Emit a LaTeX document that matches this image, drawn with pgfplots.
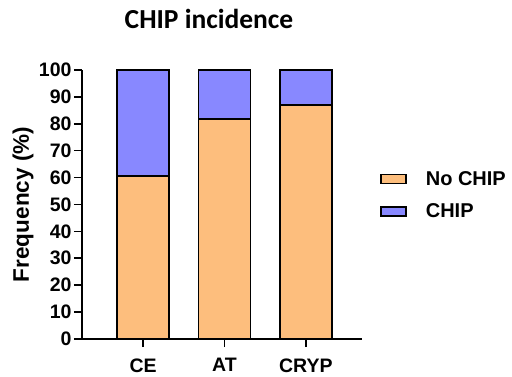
\documentclass[border=0pt]{standalone}
\usepackage{pgfplots}
\pgfplotsset{compat=1.18}
\usepackage{fontspec}
\setmainfont{Liberation Sans}
\newfontfamily\titlefont{Carlito}
\definecolor{nochip}{RGB}{253,190,125}
\definecolor{chip}{RGB}{136,136,255}
\pgfplotstableread{
x name nochip chip
0 CE 60.5 39.5
1 AT 81.7 18.3
2 CRYP 87.0 13.0
}\datatable
\begin{document}
\begin{tikzpicture}
\begin{axis}[
  name=ax,
  at={(0,0)}, anchor=south west,
  scale only axis,
  width=280bp, height=269bp,
  xmin=-0.75, xmax=2.69,
  ymin=0, ymax=100,
  ybar stacked,
  bar width=52bp,
  xtick=data,
  xticklabels={CE,AT,CRYP},
  ytick={0,10,...,100},
  axis x line=bottom, axis y line=left,
  axis line style={-, line width=2bp, black},
  tick style={line width=1.6bp, black},
  major tick length=8bp,
  tick align=outside,
  /pgf/number format/assume math mode=true,
  ticklabel style={font=\bfseries\fontsize{19.5bp}{22bp}\selectfont},
  xticklabel style={yshift=-8bp},
  yticklabel style={xshift=1bp},
  ylabel={Frequency (\%)},
  ylabel style={at={(axis description cs:0,0.5)}, anchor=center, yshift=59bp, font=\bfseries\fontsize{22.5bp}{24bp}\selectfont},
  title={CHIP incidence},
  title style={at={(axis description cs:0.5,1)}, anchor=base, yshift=36bp, xshift=-13bp, font=\titlefont\bfseries\fontsize{27.5bp}{30bp}\selectfont},
  legend style={at={(axis description cs:1.053,0.535)}, anchor=west, draw=none, fill=none,
    font=\bfseries\fontsize{20bp}{23bp}\selectfont, row sep=13bp},
  legend cell align=left,
  legend image code/.code={\draw[#1, line width=1.6bp] (0bp,-4.5bp) rectangle (25bp,4.5bp); \path[draw=none, fill=none] (0bp,0bp) -- (43bp,0bp);},
  clip=false,
]
\addplot[fill=nochip, draw=black, line width=1.6bp] table[x=x, y=nochip] {\datatable};
\addplot[fill=chip, draw=black, line width=1.6bp] table[x=x, y=chip] {\datatable};
\legend{No CHIP, CHIP}
\end{axis}
\path (ax.south west) ++(-82bp,-38bp) rectangle ++(512bp,377bp);
\end{tikzpicture}
\end{document}
